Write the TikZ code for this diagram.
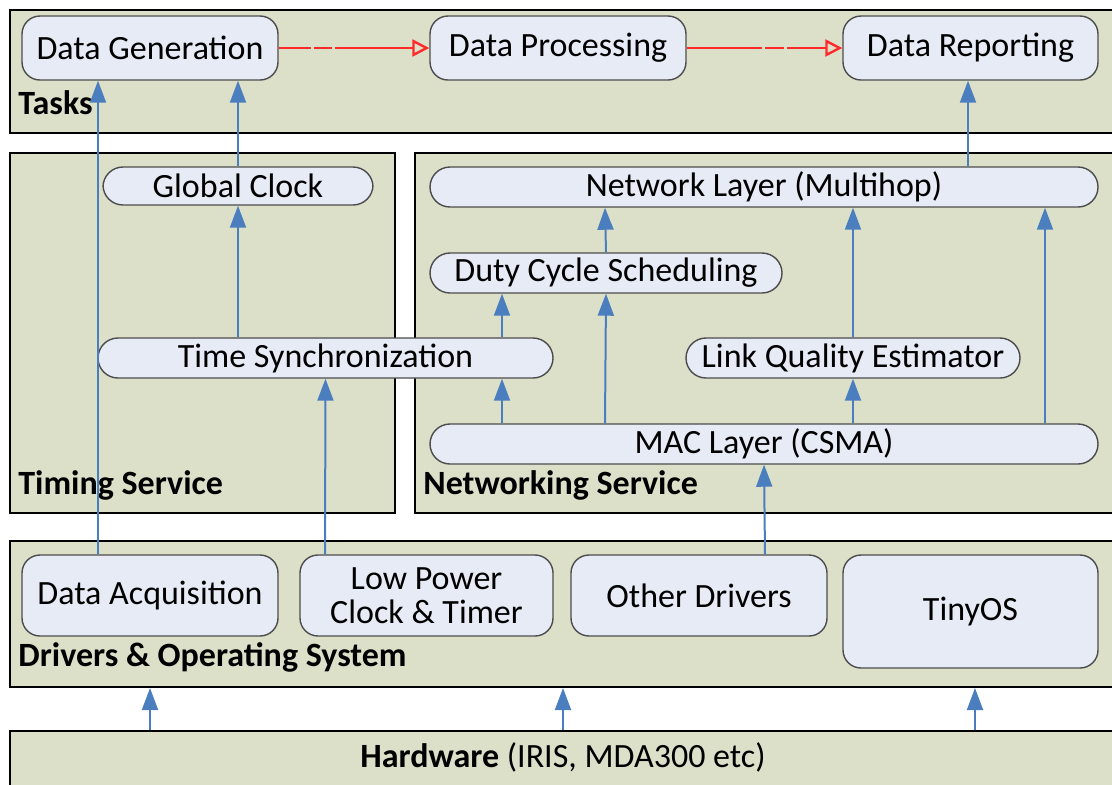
\documentclass[tikz,border=0pt]{standalone}
\usepackage{fontspec}
\setmainfont{Carlito}
\definecolor{layerbg}{HTML}{DDE0C9}
\definecolor{blockbg}{HTML}{E6EBF6}
\definecolor{flowblue}{HTML}{4A7EBF}
\definecolor{taskred}{HTML}{FF2A2A}
\usetikzlibrary{arrows.meta}

\begin{document}
\begin{tikzpicture}[x=0.5pt,y=-0.5pt,
  layer/.style={draw=black,line width=1pt,fill=layerbg,inner sep=0pt},
  block/.style={draw=black!70,line width=0.7pt,fill=blockbg,rounded corners=9pt,
    inner sep=0pt,align=center,font=\fontsize{17}{17}\selectfont},
  pill/.style={block,rounded corners=10pt,minimum height=20pt},
  lname/.style={anchor=west,inner sep=0pt,font=\fontsize{17}{19}\selectfont\bfseries},
  flow/.style={draw=flowblue,line width=1pt,-{Triangle[length=11pt,width=8pt]}},
  task/.style={draw=taskred,line width=1.2pt,-{Triangle[open,length=8.5pt,width=8.5pt]}}]
  \clip (0,0) rectangle (1112,784);
  % layers
  \node[layer,minimum width=555pt,minimum height=61.5pt] (tasks) at (565,71.5) {};
  \node[layer,minimum width=192.5pt,minimum height=180pt] (timing) at (202.5,333) {};
  \node[layer,minimum width=352.5pt,minimum height=180pt] (netsvc) at (767.5,333) {};
  \node[layer,minimum width=555pt,minimum height=73pt] (drv) at (565,614) {};
  \node[layer,minimum width=555pt,minimum height=34.5pt] (hw) at (565,765.5) {};
  \node[lname] (tasksname) at (18,103) {Tasks};
  \node[lname] (timingname) at (18,485) {Timing Service};
  \node[lname] (netsvcname) at (423,485) {Networking Service};
  \node[lname] (drvname) at (18,657) {Drivers \& Operating System};
  \node[font=\fontsize{17}{19}\selectfont,inner sep=0pt] (hwname) at (563,757)
    {\textbf{Hardware} (IRIS, MDA300 etc)};
  % tasks
  \node[block,minimum width=128pt,minimum height=32pt] (gen) at (150,48) {Data Generation};
  \node[block,minimum width=128pt,minimum height=32pt] (proc) at (558,48) {Data Processing};
  \node[block,minimum width=127.5pt,minimum height=32pt] (rep) at (970.5,48) {Data Reporting};
  % timing service
  \node[pill,minimum width=135pt,minimum height=19pt] (clock) at (238,186) {Global Clock};
  \node[pill,minimum width=227.5pt] (sync) at (325.5,358) {Time Synchronization};
  % networking service
  \node[pill,minimum width=334pt] (netl) at (764,187) {Network Layer (Multihop)};
  \node[pill,minimum width=176pt] (duty) at (606,273) {Duty Cycle Scheduling};
  \node[pill,minimum width=167pt] (lqe) at (853,358) {Link Quality Estimator};
  \node[pill,minimum width=334pt] (mac) at (764,444) {MAC Layer (CSMA)};
  % drivers and OS
  \node[block,minimum width=128pt,minimum height=40.5pt] (acq) at (150,595.5) {Data Acquisition};
  \node[block,minimum width=126.5pt,minimum height=40.5pt] (lowp) at (426.5,595.5) {Low Power\\Clock \& Timer};
  \node[block,minimum width=128pt,minimum height=40.5pt] (other) at (699,595.5) {Other Drivers};
  \node[block,minimum width=127.5pt,minimum height=56.5pt] (tiny) at (970.5,611.5) {TinyOS};
  % task chain
  \draw[task,dash pattern=on 16pt off 1.5pt on 9pt off 1.5pt on 200pt off 0pt] (gen) -- (proc);
  \draw[task,dash pattern=on 37.5pt off 1.5pt on 9.5pt off 1.5pt on 200pt off 0pt] (proc) -- (rep);
  % data flow
  \draw[flow] ([xshift=-26pt]acq.north) -- ([xshift=-26pt]gen.south);
  \draw[flow] (clock.north) -- ([xshift=44pt]gen.south);
  \draw[flow] ([xshift=-43.75pt]sync.north) -- (clock.south);
  \draw[flow] ([xshift=-50.75pt]lowp.north) -- (sync.south);
  \draw[flow] ([xshift=-131pt]mac.north) -- ([xshift=88.25pt]sync.south);
  \draw[flow] ([xshift=88.25pt]sync.north) -- ([xshift=-52pt]duty.south);
  \draw[flow] ([xshift=-79.5pt]mac.north) -- (duty.south);
  \draw[flow] (duty.north) -- ([xshift=-79.5pt]netl.south);
  \draw[flow] ([xshift=44.5pt]mac.north) -- (lqe.south);
  \draw[flow] (lqe.north) -- ([xshift=44.5pt]netl.south);
  \draw[flow] ([xshift=140.5pt]mac.north) -- ([xshift=140.5pt]netl.south);
  \draw[flow] ([xshift=102pt]netl.north) -- ([xshift=-1.25pt]rep.south);
  \draw[flow] ([xshift=33pt]other.north) -- (mac.south);
  \draw[flow] ([xshift=-207.5pt]hw.north) -- ([xshift=-207.5pt]drv.south);
  \draw[flow] ([xshift=-1pt]hw.north) -- ([xshift=-1pt]drv.south);
  \draw[flow] ([xshift=205pt]hw.north) -- ([xshift=205pt]drv.south);
\end{tikzpicture}
\end{document}
